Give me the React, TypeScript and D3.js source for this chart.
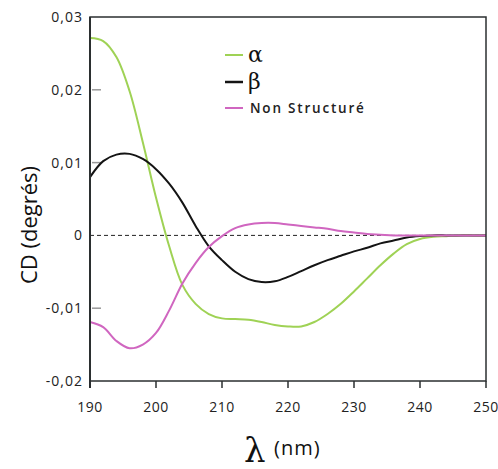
import React from "react";
import * as d3 from "d3";

const wavelengths = [190,192,194,196,198,200,202,204,206,208,210,212,214,216,218,220,222,224,226,228,230,232,234,236,238,240,242,244,246,248,250];
const alphaValues = [0.0271,0.0267,0.0245,0.0198,0.0128,0.0052,-0.0015,-0.0068,-0.0094,-0.0108,-0.0114,-0.0115,-0.0116,-0.0119,-0.0123,-0.0125,-0.0125,-0.0119,-0.0108,-0.0094,-0.0077,-0.0059,-0.0041,-0.0025,-0.0012,-0.0005,-0.0002,-0.0001,0,0,0];
const betaValues = [0.0080,0.0102,0.0111,0.0112,0.0105,0.0091,0.0071,0.0045,0.0013,-0.0015,-0.0034,-0.0050,-0.0060,-0.0064,-0.0063,-0.0057,-0.0049,-0.0041,-0.0034,-0.0028,-0.0022,-0.0017,-0.0011,-0.0007,-0.0003,-0.0001,0,0,0,0,0];
const randomValues = [-0.0119,-0.0126,-0.0145,-0.0155,-0.0150,-0.0134,-0.0103,-0.0066,-0.0038,-0.0016,-0.0001,0.0010,0.0015,0.0017,0.0017,0.0015,0.0013,0.0011,0.0009,0.0006,0.0004,0.0002,0.0001,0,0,0,0,0,0,0,0];
const xTicks = [190,200,210,220,230,240,250];
const yTicks = [0.03,0.02,0.01,0,-0.01,-0.02];
const yTickLabels = ["0,03","0,02","0,01","0","-0,01","-0,02"];
const seriesNames = ["α","β","Non Structuré"];
const seriesColors = ["#9fd255","#141414","#d066c0"];

export default function App() {
  const W = 498, H = 469;
  const left = 90, right = 486, top = 17, bottom = 381;
  const x = d3.scaleLinear().domain([190, 250]).range([left, right]);
  const y = d3.scaleLinear().domain([-0.02, 0.03]).range([bottom, top]);
  const line = d3.line<[number, number]>().x(d => x(d[0])).y(d => y(d[1])).curve(d3.curveCatmullRom.alpha(0.5));
  const series = [alphaValues, betaValues, randomValues];
  const font = "'Open Sans', sans-serif";
  return (
    <svg width={W} height={H} style={{ position: "absolute", left: 0, top: 0, background: "#fff" }}>
      <line x1={left} x2={right} y1={y(0)} y2={y(0)} stroke="#222" strokeWidth={1} strokeDasharray="4,3" />
      {yTicks.filter(t => t !== 0.03 && t !== -0.02 && t !== 0).map(t => (
        <line key={"yt" + t} x1={left + 2} x2={left + 11} y1={y(t)} y2={y(t)} stroke="#999" strokeWidth={1.5} />
      ))}
      {series.map((vals, i) => (
        <path key={i} d={line(wavelengths.map((w, j) => [w, vals[j]]) as [number, number][]) || ""} fill="none" stroke={seriesColors[i]} strokeWidth={2} />
      ))}
      <rect x={left} y={top} width={right - left} height={bottom - top} fill="none" stroke="#2b2f30" strokeWidth={1.5} />
      <line x1={left} x2={left} y1={top} y2={bottom + 7} stroke="#2b2f30" strokeWidth={2} />
      {xTicks.map(t => (
        <line key={"xt" + t} x1={x(t)} x2={x(t)} y1={bottom} y2={bottom + 7} stroke="#2b2f30" strokeWidth={1.5} />
      ))}
      {xTicks.map(t => (
        <text key={"xl" + t} x={x(t)} y={412} textAnchor="middle" fontFamily={font} fontSize={14} letterSpacing={0.5} fill="#222">{t}</text>
      ))}
      {yTicks.map((t, i) => (
        <text key={"yl" + t} x={83} y={y(t) + 5} textAnchor="end" fontFamily={font} fontSize={14} letterSpacing={1} fill="#222">{yTickLabels[i]}</text>
      ))}
      <text transform="translate(37,225) rotate(-90)" textAnchor="middle" fontFamily={font} fontSize={22} fill="#111">CD (degrés)</text>
      <text x={244} y={462} fontFamily="'DejaVu Serif', serif" fontSize={34} fill="#111">λ</text>
      <text x={274} y={455} fontFamily={font} fontSize={20} fill="#111" letterSpacing={1}>(nm)</text>
      {seriesNames.map((n, i) => {
        const ly = [55, 82, 108][i];
        return (
          <g key={"lg" + i}>
            <line x1={225} x2={243} y1={ly} y2={ly} stroke={seriesColors[i]} strokeWidth={i === 1 ? 2.5 : 2} />
            {i < 2 ? (
              <text x={248} y={ly + 7} fontFamily="'DejaVu Serif', serif" fontSize={22} fill="#111">{n}</text>
            ) : (
              <text x={250} y={ly + 5} fontFamily={font} fontSize={13.5} fontWeight={600} letterSpacing={1.8} fill="#222">{n}</text>
            )}
          </g>
        );
      })}
    </svg>
  );
}
